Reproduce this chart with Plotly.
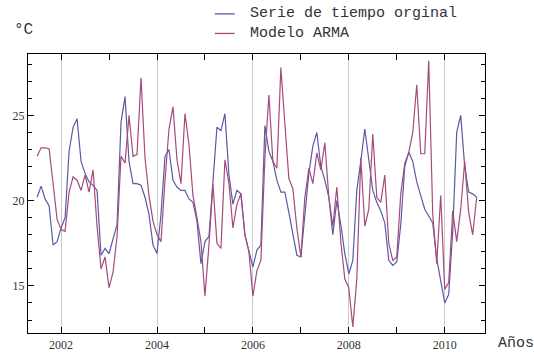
import numpy as np
import plotly.graph_objects as go

# Monthly mean temperature (°C), July 2001 - August 2010
start_year = 2001.5
serie_original = [
    20.2, 20.85, 20.1, 19.7, 17.4, 17.6, 18.4, 19.0, 22.9, 24.3, 24.8, 22.3,
    21.6, 21.1, 20.9, 20.6, 16.8, 17.2, 16.9, 17.7, 18.6, 24.6, 26.1, 22.3,
    21.0, 21.0, 20.9, 20.2, 19.2, 17.4, 16.9, 19.2, 22.6, 23.0, 21.2, 20.8,
    20.6, 20.6, 20.1, 19.9, 18.8, 16.3, 17.6, 17.9, 21.3, 24.3, 24.1, 25.1,
    21.5, 19.8, 20.6, 20.4, 18.0, 17.1, 16.1, 17.1, 17.4, 24.4, 22.9, 22.3,
    21.2, 20.5, 20.5, 19.3, 18.1, 16.8, 16.7, 19.4, 21.6, 23.2, 24.0, 22.0,
    21.2, 20.2, 18.0, 20.0, 18.6, 16.9, 15.7, 16.5, 20.6, 22.3, 24.2, 22.4,
    20.6, 19.9, 19.4, 18.7, 16.5, 16.2, 16.4, 18.6, 22.0, 22.85, 22.3, 21.1,
    20.3, 19.5, 19.1, 18.7, 16.6, 15.3, 14.0, 14.5, 18.2, 24.0, 25.0, 22.0,
    20.5, 20.4, 20.2,
]
modelo_arma = [
    22.6, 23.1, 23.1, 23.05, 21.0, 18.9, 18.3, 18.2, 20.5, 21.4, 21.2, 20.6,
    21.5, 20.5, 21.8, 18.5, 16.0, 16.7, 14.9, 15.8, 17.9, 22.6, 22.2, 25.0,
    22.6, 22.7, 27.2, 22.5, 20.3, 18.8, 18.0, 17.6, 21.2, 24.2, 25.5, 22.4,
    21.0, 25.1, 23.3, 20.3, 19.0, 17.6, 14.4, 17.4, 21.0, 17.5, 17.2, 22.4,
    21.0, 18.4, 19.8, 20.4, 18.0, 17.0, 14.4, 15.9, 16.5, 22.5, 26.2, 22.3,
    21.9, 27.8, 24.5, 21.3, 20.7, 18.4, 16.7, 20.2, 21.9, 21.0, 22.8, 21.8,
    23.4, 20.2, 18.5, 20.8, 17.6, 15.4, 14.9, 12.6, 15.4, 22.5, 18.5, 19.5,
    23.9, 20.2, 19.9, 21.5, 17.5, 16.5, 16.7, 20.4, 22.2, 22.8, 24.0, 26.8,
    22.75, 22.75, 28.2, 19.2, 16.3, 20.3, 14.8, 15.2, 19.4, 17.6, 19.5, 22.3,
    19.3, 18.0, 20.2,
]
tiempo = start_year + np.arange(len(serie_original)) / 12.0

year_ticks = [2002, 2004, 2006, 2008, 2010]
temp_ticks = [15, 20, 25]

BLUE = "#5a5aa6"
RED = "#a64a7c"
MONO = "Liberation Mono"
SERIF = "Liberation Serif"

fig = go.Figure()
fig.add_trace(go.Scatter(x=tiempo, y=serie_original, mode="lines",
                         line=dict(color=BLUE, width=1.2),
                         name="Serie de tiempo orginal", showlegend=False))
fig.add_trace(go.Scatter(x=tiempo, y=modelo_arma, mode="lines",
                         line=dict(color=RED, width=1.2),
                         name="Modelo ARMA", showlegend=False))

W, H = 534, 364
L, R, T, B = 25, 49, 54, 25
pw, ph = W - L - R, H - T - B


def px(xp):
    return (xp - L) / pw


def py(yp):
    return (H - B - yp) / ph


# hand-drawn legend in the top margin
legend_items = [("Serie de tiempo orginal", BLUE, 13), ("Modelo ARMA", RED, 33)]
for label, color, ypos in legend_items:
    fig.add_shape(type="line", xref="paper", yref="paper",
                  x0=px(213), x1=px(233), y0=py(ypos), y1=py(ypos),
                  line=dict(color=color, width=1.3))
    fig.add_annotation(xref="paper", yref="paper", x=px(246), y=py(ypos),
                       text=label, showarrow=False, xanchor="left",
                       yanchor="middle", font=dict(family=MONO, size=15, color="#333"))

fig.add_annotation(xref="paper", yref="paper", x=px(9), y=py(29), text="°C",
                   showarrow=False, xanchor="left", yanchor="middle",
                   font=dict(family=MONO, size=16, color="#333"))
fig.add_annotation(xref="paper", yref="paper", x=px(496), y=py(350), text="Años",
                   showarrow=False, xanchor="left", yanchor="middle",
                   font=dict(family=MONO, size=15, color="#333"))

fig.update_xaxes(range=[2001.31, 2010.84], tickmode="array", tickvals=year_ticks,
                 ticktext=[str(v) for v in year_ticks],
                 ticks="inside", ticklen=6, tickcolor="black", tickwidth=1,
                 showline=True, linecolor="black", linewidth=1.3, mirror="ticks",
                 showgrid=True, gridcolor="#c9c9c9", gridwidth=1, zeroline=False,
                 minor=dict(tickmode="linear", tick0=2001, dtick=1, ticks="inside",
                            ticklen=6, tickcolor="black", showgrid=False),
                 tickfont=dict(family=SERIF, size=12, color="#333"))
fig.update_yaxes(range=[12.24, 28.6], tickmode="array", tickvals=temp_ticks,
                 ticks="inside", ticklen=6, tickcolor="black", tickwidth=1,
                 showline=True, linecolor="black", linewidth=1.3, mirror="ticks",
                 showgrid=False, zeroline=False,
                 minor=dict(tickmode="linear", tick0=12, dtick=1, ticks="inside",
                            ticklen=3.5, tickcolor="black", showgrid=False),
                 tickfont=dict(family=SERIF, size=12, color="#333"))

fig.update_layout(width=W, height=H, margin=dict(l=L, r=R, t=T, b=B),
                  plot_bgcolor="white", paper_bgcolor="white")

fig.write_html("out.html")
